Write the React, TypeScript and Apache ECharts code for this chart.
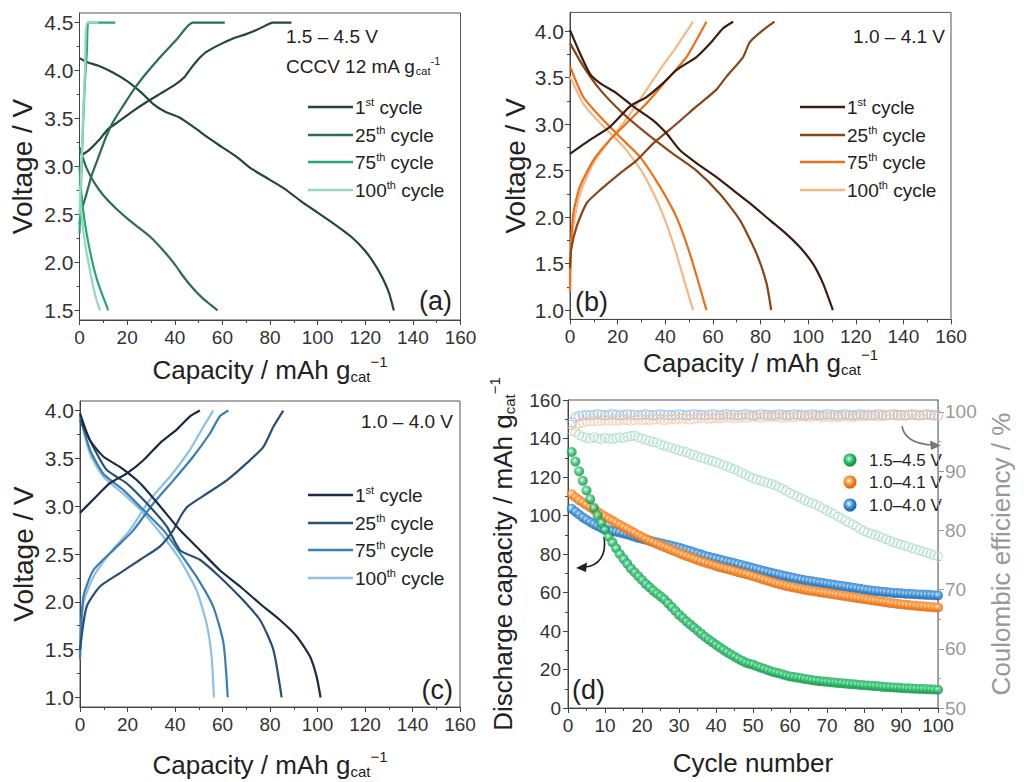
import React, { useEffect, useRef } from "react";
import * as echarts from "echarts";

const FONT = "'Liberation Sans', Arial, Helvetica, sans-serif";

// ---------- Panel (a): 1.5–4.5 V, CCCV ----------
const a1Charge = [[1,3.12],[4,3.17],[8,3.27],[12,3.39],[16,3.46],[22,3.57],[28,3.67],[34,3.76],[40,3.85],[44,3.93],[47,4.03],[50,4.12],[53,4.19],[58,4.26],[64,4.33],[70,4.38],[75,4.43],[79,4.48],[81,4.5],[89,4.5]];
const a1Discharge = [[0,4.13],[3,4.09],[8,4.05],[14,3.98],[20,3.89],[26,3.77],[31,3.65],[36,3.57],[42,3.51],[48,3.41],[54,3.3],[60,3.2],[66,3.1],[72,2.98],[78,2.89],[86,2.77],[94,2.62],[100,2.52],[107,2.4],[114,2.27],[120,2.12],[124,1.98],[127,1.85],[130,1.68],[132,1.5]];
const a25Charge = [[0,2.4],[1,2.55],[3,2.72],[5,2.9],[8,3.1],[11,3.3],[14,3.46],[18,3.62],[23,3.81],[29,4.0],[35,4.17],[41,4.33],[47.5,4.5],[61,4.5]];
const a25Discharge = [[0,3.2],[1,3.12],[3,2.98],[6,2.84],[10,2.7],[15,2.57],[20,2.46],[25,2.36],[30,2.26],[35,2.13],[40,1.98],[44,1.84],[48,1.72],[52,1.62],[55,1.56],[58,1.5]];
const a75Charge = [[0,2.3],[0.5,2.7],[1,3.1],[1.6,3.5],[2.3,3.9],[3.1,4.2],[4,4.5],[15,4.5]];
const a75Discharge = [[0,3.0],[0.5,2.8],[1.5,2.55],[3,2.3],[5,2.05],[7,1.85],[9,1.7],[11,1.57],[12,1.5]];
const a100Charge = [[0,2.5],[0.8,3.0],[1.5,3.5],[2.3,4.0],[3.3,4.5],[8,4.5]];
const a100Discharge = [[0,2.8],[0.5,2.6],[1.5,2.35],[3,2.1],[4.5,1.9],[6,1.72],[7.5,1.58],[8.6,1.5]];

// ---------- Panel (b): 1.0–4.1 V ----------
const b1Charge = [[0,2.68],[8.4,2.83],[16.8,2.97],[25.2,3.19],[32.1,3.29],[39.1,3.44],[44.7,3.58],[53.1,3.72],[59,3.87],[64.3,4.03],[68.5,4.1]];
const b1Discharge = [[0,4.01],[4.2,3.76],[8.4,3.54],[12.6,3.44],[19.6,3.33],[26.5,3.19],[34.9,3.04],[40.5,2.9],[46.1,2.72],[53.1,2.58],[61.5,2.43],[68.5,2.29],[75.5,2.15],[83.8,1.97],[90.8,1.82],[96.4,1.68],[102,1.5],[106.2,1.29],[110.4,1.0]];
const b25Charge = [[0,1.45],[0.5,1.65],[2.8,1.9],[7,2.15],[12.6,2.29],[21,2.47],[28,2.61],[34.9,2.79],[44.7,3.0],[53.1,3.19],[61.5,3.37],[65.7,3.51],[72.7,3.72],[75.5,3.88],[81.1,4.01],[85.9,4.1]];
const b25Discharge = [[0,3.87],[5.6,3.62],[12.6,3.37],[22.4,3.11],[32.1,2.9],[43.3,2.68],[53.1,2.5],[62.9,2.25],[71.3,1.97],[78.3,1.61],[82.5,1.29],[84.5,1.0]];
const b75Charge = [[0,1.2],[0.3,1.6],[1.4,2.04],[4.2,2.33],[9.8,2.61],[16.8,2.83],[23.8,3.01],[32.1,3.22],[40.5,3.47],[48.9,3.72],[57.3,4.1]];
const b75Discharge = [[0,3.62],[5.6,3.29],[12.6,3.08],[21,2.86],[29.3,2.65],[37.7,2.33],[44.7,2.0],[50.3,1.61],[54.5,1.25],[57.3,1.0]];
const b100Charge = [[0,1.2],[0.3,1.6],[1.4,1.9],[4.2,2.25],[9.8,2.58],[16.8,2.83],[22.4,3.01],[29.3,3.26],[37.7,3.58],[44.7,3.83],[51.7,4.1]];
const b100Discharge = [[0,3.51],[5.6,3.22],[12.6,3.01],[22.4,2.76],[30.7,2.47],[37.7,2.11],[43.3,1.72],[47.5,1.36],[51.7,1.0]];

// ---------- Panel (c): 1.0–4.0 V ----------
const c1Charge = [[0,2.93],[5.6,3.07],[12.6,3.24],[19.6,3.34],[26.7,3.48],[33.7,3.66],[40.7,3.8],[46.3,3.94],[50.5,4.0]];
const c1Discharge = [[0,3.97],[4.2,3.69],[9.8,3.52],[16.8,3.41],[25.3,3.24],[33.7,3.0],[42.1,2.75],[50.5,2.54],[58.9,2.33],[67.4,2.16],[75.8,1.98],[84.2,1.81],[91.2,1.64],[96.8,1.43],[99.6,1.22],[101.3,1.0]];
const c25Charge = [[0,1.5],[2.8,1.95],[8.4,2.16],[16.8,2.3],[25.3,2.44],[33.7,2.58],[39.3,2.75],[42.5,2.9],[45.5,3.0],[53.3,3.13],[61.8,3.27],[70.2,3.45],[77.2,3.62],[81.4,3.83],[85.6,4.0]];
const c25Discharge = [[0,3.9],[5.6,3.62],[11.2,3.38],[19.6,3.24],[28.1,3.03],[36.5,2.79],[42.1,2.54],[50.5,2.44],[58.9,2.26],[67.4,2.05],[75.8,1.81],[81.4,1.5],[84.9,1.0]];
const c75Charge = [[0,1.4],[1.4,2.05],[5.6,2.33],[14,2.54],[22.5,2.75],[30.9,3.03],[39.3,3.27],[47.7,3.52],[54.7,3.76],[58.9,3.94],[62.5,4.0]];
const c75Discharge = [[0,3.94],[4.2,3.59],[9.8,3.34],[18.2,3.17],[26.7,2.96],[35.1,2.75],[42.1,2.51],[49.1,2.26],[56.1,1.95],[60.4,1.57],[62.2,1.0]];
const c100Charge = [[0,1.4],[1.4,1.98],[5.6,2.26],[12.6,2.51],[21,2.75],[29.5,3.07],[37.9,3.31],[46.3,3.59],[51.9,3.83],[56.1,4.0]];
const c100Discharge = [[0,3.94],[4.2,3.55],[9.8,3.31],[18.2,3.13],[26.7,2.93],[35.1,2.68],[42.1,2.44],[49.1,2.12],[53.3,1.77],[55.4,1.43],[56.4,1.0]];

// ---------- Panel (d): cycling, cycles 1..100 ----------
const dischargeGreen = [133,128,123,118,113,108.5,104,100,96,92.5,89,86,83,80,77.5,75,72.5,70.5,68.5,66.5,64.5,62.8,61,59.5,58,56.5,54.5,52.5,50.5,48.5,46.8,45,43.4,41.8,40.2,38.6,37,35.6,34.2,32.8,31.5,30.2,29,27.8,26.7,25.6,24.6,23.6,23,22.5,21.7,21,20.4,19.7,19,18.5,18,17.4,16.9,16.4,16.1,15.8,15.5,15.1,14.8,14.5,14.2,14,13.8,13.6,13.4,13.2,13,12.9,12.7,12.5,12.4,12.2,12,11.8,11.7,11.6,11.4,11.3,11,10.9,10.8,10.7,10.6,10.4,10.3,10.2,10.1,10,9.9,9.9,9.8,9.7,9.6,9.5];
const dischargeOrange = [111,109.5,108,106.8,105.5,104.3,103,101.8,100.6,99.5,98.4,97.3,96.2,95.1,94,93,92,90.9,89.8,88.8,87.8,86.9,86.1,85.3,84.5,83.7,82.9,82.1,81.3,80.5,79.7,79,78.3,77.6,76.9,76.2,75.6,75,74.4,73.8,73.2,72.7,72.2,71.7,71.2,70.6,70.1,69.6,69.1,68.5,67.9,67.3,66.7,66.1,65.5,64.9,64.4,63.9,63.4,63,62.6,62.2,61.8,61.4,61.1,60.8,60.5,60.2,59.9,59.6,59.3,59,58.7,58.4,58.1,57.8,57.5,57.2,56.9,56.6,56.3,56,55.7,55.5,55.2,54.9,54.6,54.4,54.1,53.9,53.7,53.5,53.3,53.1,52.9,52.8,52.6,52.5,52.3,52.2];
const dischargeBlue = [103.5,102,100.5,99,97.8,96.6,95.5,94.5,93.6,92.9,92.4,92,91.6,91.2,90.7,90.2,89.6,89,88.4,87.9,87.4,87,86.5,86.1,85.6,85.2,84.8,84.3,83.8,83.3,82.7,82.1,81.5,80.9,80.3,79.7,79.1,78.6,78.1,77.6,77.1,76.6,76.1,75.7,75.2,74.7,74.2,73.7,73.2,72.7,72.2,71.7,71.2,70.7,70.2,69.7,69.3,68.8,68.4,68,67.6,67.2,66.8,66.4,66.1,65.8,65.5,65.2,64.9,64.6,64.3,64,63.7,63.4,63.1,62.8,62.5,62.2,61.9,61.6,61.3,61,60.8,60.6,60.4,60.2,60,59.8,59.7,59.6,59.4,59.3,59.2,59.1,59,58.9,58.8,58.7,58.6,58.5];
const ceGreen = [97.8,96.6,96.1,95.8,95.6,95.5,95.7,95.5,95.4,95.6,95.5,95.4,95.6,95.7,95.6,95.8,95.9,96,95.7,95.5,95.3,95.1,94.9,94.8,94.5,94.3,94.1,93.9,93.7,93.5,93.3,93.2,92.9,92.7,92.5,92.3,92.1,91.9,91.7,91.5,91.3,91,90.8,90.5,90.3,90,89.7,89.4,89.1,88.8,88.6,88.4,88.2,88,87.8,87.6,87.3,87,86.7,86.3,86,85.7,85.4,85.1,84.8,84.6,84.3,84,83.7,83.3,83,82.7,82.3,82,81.6,81.3,81,80.6,80.2,79.9,79.6,79.4,79.2,79,78.7,78.5,78.2,78,77.8,77.6,77.4,77.2,77,76.8,76.6,76.4,76.2,76,75.8,75.6];
const ceOrange = [96.8,97.6,98,98.2,98.4,98.4,98.5,98.4,98.5,98.6,98.5,98.6,98.5,98.6,98.7,98.6,98.5,98.6,98.7,98.6,98.7,98.6,98.7,98.8,98.7,98.6,98.7,98.8,98.7,98.8,98.9,98.8,98.7,98.8,98.9,99,98.9,98.8,98.9,99,98.9,99,99.1,99,98.9,99,99.1,99,99.1,99.2,99.1,99,99.1,99.2,99.1,99.2,99.1,99,99.1,99.2,99.1,99.2,99.3,99.2,99.1,99.2,99.3,99.2,99.1,99.2,99.1,99.2,99.1,99.2,99.3,99.2,99.1,99.2,99.3,99.2,99.3,99.4,99.3,99.2,99.3,99.4,99.5,99.4,99.3,99.4,99.3,99.4,99.5,99.4,99.3,99.4,99.5,99.4,99.3,99.4];
const ceBlue = [98.2,99.1,99.3,99.4,99.5,99.4,99.5,99.6,99.5,99.4,99.5,99.6,99.5,99.4,99.5,99.6,99.5,99.5,99.4,99.5,99.6,99.5,99.4,99.5,99.6,99.5,99.5,99.4,99.5,99.6,99.5,99.4,99.5,99.6,99.5,99.5,99.4,99.5,99.6,99.5,99.4,99.5,99.6,99.5,99.5,99.4,99.5,99.6,99.5,99.4,99.5,99.6,99.5,99.5,99.4,99.5,99.6,99.5,99.4,99.5,99.6,99.5,99.5,99.4,99.5,99.6,99.5,99.4,99.5,99.6,99.5,99.5,99.4,99.5,99.6,99.5,99.4,99.5,99.6,99.5,99.5,99.4,99.5,99.6,99.5,99.4,99.5,99.6,99.5,99.5,99.4,99.5,99.6,99.5,99.4,99.5,99.6,99.5,99.5,99.4];

// tick labels
const voltTicksA = [1.5, 2.0, 2.5, 3.0, 3.5, 4.0, 4.5];
const voltMinorA = [1.75, 2.25, 2.75, 3.25, 3.75, 4.25];
const voltTicksBC = [1.0, 1.5, 2.0, 2.5, 3.0, 3.5, 4.0];
const voltMinorBC = [1.25, 1.75, 2.25, 2.75, 3.25, 3.75];
const ceTicks = [50, 60, 70, 80, 90, 100];
const ceMinor = [55, 65, 75, 85, 95];

const cycleLabels = ["1", "25", "75", "100"];
const cycleSup = ["st", "th", "th", "th"];
const colorsA = ["#23473a", "#2a6e50", "#27a579", "#93d8ba"];
const colorsB = ["#3a1d0e", "#8a4617", "#ee6f16", "#f7b784"];
const colorsC = ["#1c2b45", "#2a4f75", "#3b7db5", "#8cc0e6"];
const rangeLabelsD = ["1.5–4.5 V", "1.0–4.1 V", "1.0–4.0 V"];

function rich(size: number, color: string) {
  const s = Math.round(size * 0.57);
  return {
    sup: { fontSize: s, fontFamily: FONT, color, fill: color, padding: [0, 0, Math.round(size * 0.6), 0] },
    sub: { fontSize: s, fontFamily: FONT, color, fill: color, padding: [Math.round(size * 0.55), 0, 0, 0] },
  };
}

const AX = "#444";
const lbl = { color: "#333", fontSize: 19, fontFamily: FONT };
const ylbl = { color: "#333", fontSize: 21, fontFamily: FONT };

function capAxis(grid: number, gap: number) {
  return {
    type: "value", gridIndex: grid, min: 0, max: 160, interval: 20,
    axisLine: { show: true, lineStyle: { color: AX } },
    axisTick: { show: true, length: 5, lineStyle: { color: AX } },
    minorTick: { show: true, splitNumber: 2, length: 3, lineStyle: { color: AX } },
    axisLabel: { ...lbl, margin: 8 },
    splitLine: { show: false },
    name: "Capacity / mAh g{sub|cat}{sup|−1}",
    nameLocation: "middle", nameGap: gap,
    nameTextStyle: { fontSize: 26, fontFamily: FONT, color: "#222", rich: rich(26, "#222") },
  };
}

function voltAxis(grid: number, min: number, max: number, ticks: number[], gap: number) {
  return {
    type: "value", gridIndex: grid, min, max,
    axisLine: { show: true, lineStyle: { color: AX } },
    axisTick: { show: true, length: 5, customValues: ticks, lineStyle: { color: AX } },
    axisLabel: { ...ylbl, margin: 6, customValues: ticks, formatter: (v: number) => v.toFixed(1) },
    splitLine: { show: false },
    name: "Voltage / V", nameLocation: "middle", nameRotate: 90, nameGap: gap,
    nameTextStyle: { fontSize: 28, fontFamily: FONT, color: "#222" },
  };
}

function minorAxis(grid: number, min: number, max: number, ticks: number[], position = "left", color = AX) {
  return {
    type: "value", gridIndex: grid, min, max, position,
    axisLine: { show: false },
    axisTick: { show: true, length: 3, customValues: ticks, lineStyle: { color } },
    axisLabel: { show: false },
    splitLine: { show: false },
  };
}

function curve(name: string, data: number[][], color: string, xi: number, yi: number) {
  return {
    name, type: "line", xAxisIndex: xi, yAxisIndex: yi, data,
    showSymbol: false, smooth: 0.2,
    lineStyle: { color, width: 2.2 }, itemStyle: { color },
  };
}

function sphere(c0: string, c1: string, c2: string) {
  return new echarts.graphic.RadialGradient(0.42, 0.4, 0.6, [
    { offset: 0, color: "#ffffff" },
    { offset: 0.22, color: c0 },
    { offset: 0.6, color: c1 },
    { offset: 1, color: c2 },
  ]);
}

function legendLines(x: number, ys: number[], colors: string[]) {
  const els: any[] = [];
  ys.forEach((y, i) => {
    els.push({ type: "line", shape: { x1: x, y1: y, x2: x + 45, y2: y }, style: { stroke: colors[i], lineWidth: 2.5 } });
    els.push({
      type: "text", x: x + 47, y,
      style: {
        text: cycleLabels[i] + "{sup|" + cycleSup[i] + "} cycle",
        fontSize: 19, fontFamily: FONT, fill: "#222",
        align: "left", verticalAlign: "middle", textAlign: "left", textVerticalAlign: "middle",
        rich: rich(19, "#222"),
      },
    });
  });
  return els;
}

function text(x: number, y: number, s: string, size: number, align = "left", color = "#222") {
  return {
    type: "text", x, y,
    style: {
      text: s, fontSize: size, fontFamily: FONT, fill: color,
      align, verticalAlign: "middle", textAlign: align, textVerticalAlign: "middle",
      rich: rich(size, color),
    },
  };
}

function buildOption() {
  const grids = [
    { left: 79.5, top: 13, width: 381, height: 307 },
    { left: 570, top: 12.4, width: 381, height: 307 },
    { left: 80, top: 401, width: 380, height: 306 },
    { left: 568, top: 400, width: 370, height: 308 },
  ].map((g) => ({ ...g, show: true, borderColor: "#555", borderWidth: 1, backgroundColor: "transparent" }));

  const xAxis: any[] = [
    capAxis(0, 34),
    capAxis(1, 28),
    capAxis(2, 42),
    {
      type: "value", gridIndex: 3, min: 0, max: 100, interval: 10,
      axisLine: { show: true, lineStyle: { color: AX } },
      axisTick: { show: true, length: 5, lineStyle: { color: AX } },
      minorTick: { show: true, splitNumber: 2, length: 3, lineStyle: { color: AX } },
      axisLabel: { ...lbl, margin: 8 },
      splitLine: { show: false },
      name: "Cycle number", nameLocation: "middle", nameGap: 42,
      nameTextStyle: { fontSize: 26, fontFamily: FONT, color: "#222" },
    },
  ];

  const yAxis: any[] = [
    voltAxis(0, 1.4, 4.6, voltTicksA, 43),               // 0
    voltAxis(1, 0.9, 4.2, voltTicksBC, 41),              // 1
    voltAxis(2, 0.9, 4.1, voltTicksBC, 43),              // 2
    {                                                    // 3 discharge capacity
      type: "value", gridIndex: 3, min: 0, max: 160, interval: 20,
      axisLine: { show: true, lineStyle: { color: AX } },
      axisTick: { show: true, length: 5, lineStyle: { color: AX } },
      minorTick: { show: true, splitNumber: 2, length: 3, lineStyle: { color: AX } },
      axisLabel: { ...lbl, margin: 7 },
      splitLine: { show: false },
      name: "Discharge capacity / mAh g{sub|cat}{sup|−1}",
      nameLocation: "middle", nameRotate: 90, nameGap: 50,
      nameTextStyle: { fontSize: 26, fontFamily: FONT, color: "#222", rich: rich(26, "#222") },
    },
    {                                                    // 4 coulombic efficiency
      type: "value", gridIndex: 3, min: 50, max: 102, position: "right",
      axisLine: { show: true, lineStyle: { color: "#999" } },
      axisTick: { show: true, length: 6, customValues: ceTicks, lineStyle: { color: "#999" } },
      axisLabel: { color: "#999", fontSize: 19, fontFamily: FONT, margin: 7, customValues: ceTicks },
      splitLine: { show: false },
      name: "Coulombic efficiency / %", nameLocation: "middle", nameRotate: 90, nameGap: 50,
      nameTextStyle: { fontSize: 26, fontFamily: FONT, color: "#999" },
    },
    minorAxis(0, 1.4, 4.6, voltMinorA),                  // 5
    minorAxis(1, 0.9, 4.2, voltMinorBC),                 // 6
    minorAxis(2, 0.9, 4.1, voltMinorBC),                 // 7
    minorAxis(3, 50, 102, ceMinor, "right", "#999"),     // 8
  ];

  const series: any[] = [
    curve("a 1st charge", a1Charge, colorsA[0], 0, 0),
    curve("a 1st discharge", a1Discharge, colorsA[0], 0, 0),
    curve("a 25th charge", a25Charge, colorsA[1], 0, 0),
    curve("a 25th discharge", a25Discharge, colorsA[1], 0, 0),
    curve("a 75th charge", a75Charge, colorsA[2], 0, 0),
    curve("a 75th discharge", a75Discharge, colorsA[2], 0, 0),
    curve("a 100th charge", a100Charge, colorsA[3], 0, 0),
    curve("a 100th discharge", a100Discharge, colorsA[3], 0, 0),

    curve("b 100th charge", b100Charge, colorsB[3], 1, 1),
    curve("b 100th discharge", b100Discharge, colorsB[3], 1, 1),
    curve("b 75th charge", b75Charge, colorsB[2], 1, 1),
    curve("b 75th discharge", b75Discharge, colorsB[2], 1, 1),
    curve("b 25th charge", b25Charge, colorsB[1], 1, 1),
    curve("b 25th discharge", b25Discharge, colorsB[1], 1, 1),
    curve("b 1st charge", b1Charge, colorsB[0], 1, 1),
    curve("b 1st discharge", b1Discharge, colorsB[0], 1, 1),

    curve("c 100th charge", c100Charge, colorsC[3], 2, 2),
    curve("c 100th discharge", c100Discharge, colorsC[3], 2, 2),
    curve("c 75th charge", c75Charge, colorsC[2], 2, 2),
    curve("c 75th discharge", c75Discharge, colorsC[2], 2, 2),
    curve("c 25th charge", c25Charge, colorsC[1], 2, 2),
    curve("c 25th discharge", c25Discharge, colorsC[1], 2, 2),
    curve("c 1st charge", c1Charge, colorsC[0], 2, 2),
    curve("c 1st discharge", c1Discharge, colorsC[0], 2, 2),
  ];

  const ce = (name: string, vals: number[], stroke: string) => ({
    name, type: "scatter", xAxisIndex: 3, yAxisIndex: 4,
    data: vals.map((v, i) => [i + 1, v]),
    symbol: "circle", symbolSize: 9,
    itemStyle: { color: "rgba(255,255,255,0)", borderColor: stroke, borderWidth: 1 },
  });
  const dc = (name: string, vals: number[], grad: any) => ({
    name, type: "scatter", xAxisIndex: 3, yAxisIndex: 3,
    data: vals.map((v, i) => [i + 1, v]),
    symbol: "circle", symbolSize: 10,
    itemStyle: { color: grad },
  });
  const gGreen = sphere("#7fe0a8", "#1fb25f", "#0f8a44");
  const gOrange = sphere("#ffc58a", "#f6821f", "#d9620a");
  const gBlue = sphere("#9cc9f0", "#2f85cf", "#1c61a3");
  series.push(
    ce("CE 1.5–4.5 V", ceGreen, "#9cd9bb"),
    ce("CE 1.0–4.0 V", ceBlue, "#86b4dc"),
    ce("CE 1.0–4.1 V", ceOrange, "#f5c3a0"),
    dc("1.0–4.0 V", dischargeBlue, gBlue),
    dc("1.0–4.1 V", dischargeOrange, gOrange),
    dc("1.5–4.5 V", dischargeGreen, gGreen),
  );

  const graphics: any[] = [
    text(286, 36, "1.5 – 4.5 V", 19),
    text(286, 66, "CCCV 12 mA g{sub|cat}{sup|-1}", 19),
    text(452, 301, "(a)", 27, "right"),
    ...legendLines(308, [107, 135, 162, 190], colorsA),

    text(945, 36, "1.0 – 4.1 V", 19, "right"),
    text(575, 302, "(b)", 27),
    ...legendLines(800, [107, 135, 162, 190], colorsB),

    text(453, 421, "1.0 – 4.0 V", 19, "right"),
    text(453, 690, "(c)", 27, "right"),
    ...legendLines(308, [495, 523, 550, 578], colorsC),

    text(572, 690, "(d)", 27),
  ];
  const legendGrads = [gGreen, gOrange, gBlue];
  [460, 482, 505].forEach((y, i) => {
    graphics.push({ type: "circle", shape: { cx: 850, cy: y, r: 6.5 }, style: { fill: legendGrads[i] } });
    graphics.push(text(869, y, rangeLabelsD[i], 17));
  });
  // arrows
  graphics.push(
    { type: "bezierCurve", shape: { x1: 604, y1: 537, cpx1: 607, cpy1: 556, cpx2: 598, cpy2: 566, x2: 585, y2: 567 },
      style: { stroke: "#222", lineWidth: 1.6, fill: "none" } },
    { type: "polygon", shape: { points: [[576, 568], [587, 562.5], [586, 572]] }, style: { fill: "#222" } },
    { type: "bezierCurve", shape: { x1: 902, y1: 426, cpx1: 904, cpy1: 438, cpx2: 915, cpy2: 444, x2: 932, y2: 445 },
      style: { stroke: "#777", lineWidth: 1.6, fill: "none" } },
    { type: "polygon", shape: { points: [[941, 445.5], [930, 440.5], [931, 450]] }, style: { fill: "#777" } },
  );

  return {
    animation: false,
    backgroundColor: "#ffffff",
    textStyle: { fontFamily: FONT },
    grid: grids,
    xAxis, yAxis, series,
    graphic: graphics,
  };
}

export default function App() {
  const ref = useRef<HTMLDivElement>(null);
  useEffect(() => {
    const chart = echarts.init(ref.current as HTMLDivElement, null, { renderer: "svg" });
    chart.setOption(buildOption() as any);
    return () => chart.dispose();
  }, []);
  return <div ref={ref} style={{ position: "absolute", left: 0, top: 0, width: 1030, height: 782 }} />;
}
